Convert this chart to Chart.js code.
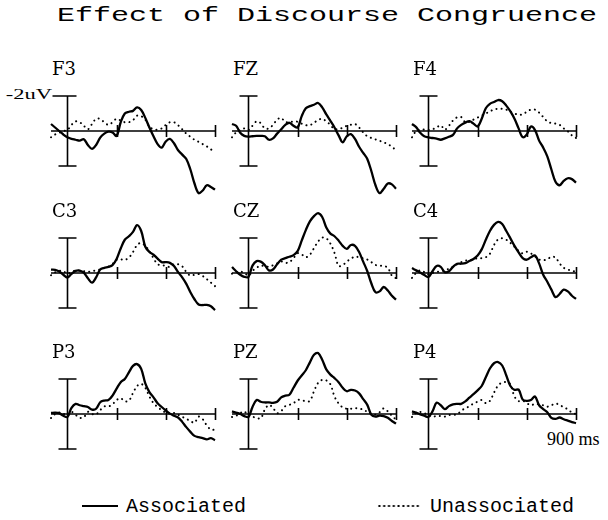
<!DOCTYPE html>
<html>
<head>
<meta charset="utf-8">
<script src="https://cdn.jsdelivr.net/npm/chart.js@4.4.0/dist/chart.umd.min.js"></script>
<style>
  body { margin: 0; background: #fff; }
  #page { position: relative; width: 608px; height: 520px; overflow: hidden; background: #fff; }
  canvas { position: absolute; }
  .txt { position: absolute; white-space: nowrap; color: #000; }
  .mono { font-family: "Liberation Mono", "DejaVu Sans Mono", monospace; }
  .serif { font-family: "Liberation Serif", "DejaVu Serif", serif; }
  .lab { font-family: "DejaVu Serif", serif; font-size: 18px; line-height: 18px; }
</style>
</head>
<body>
<div id="page">
  <div class="txt mono" style="left:57px;top:6px;font-size:20px;line-height:20px;transform:scaleX(1.5);transform-origin:0 0;">Effect of Discourse Congruence</div>
  <div class="txt serif" style="left:0;top:87px;font-size:15px;line-height:15px;width:52px;text-align:right;transform:scaleX(1.5);transform-origin:100% 0;">-2uV</div>
  <div class="txt serif" style="left:547px;top:430px;font-size:18px;line-height:18px;">900 ms</div>

  <div style="position:absolute;left:82px;top:505px;width:36px;border-top:2px solid #000;"></div>
  <div class="txt mono" style="left:126px;top:497px;font-size:20px;line-height:20px;">Associated</div>
  <div style="position:absolute;left:377px;top:504px;width:44px;height:4px;background-image:radial-gradient(circle, #000 0.9px, transparent 1.3px);background-size:4.8px 4px;"></div>
  <div class="txt mono" style="left:430px;top:497px;font-size:20px;line-height:20px;">Unassociated</div>
</div>
<script>
// time points (ms) and ERP amplitudes (uV, negative plotted up)
const times = [-100, -75, -50, -25, 0, 25, 50, 75, 100, 125, 150, 175, 200, 225, 250, 275, 300, 325, 350, 375,
  400, 425, 450, 475, 500, 525, 550, 575, 600, 625, 650, 675, 700, 725, 750, 775, 800, 825, 850, 875, 900];

const electrodes = ['F3', 'FZ', 'F4', 'C3', 'CZ', 'C4', 'P3', 'PZ', 'P4'];
const seriesNames = ['Associated', 'Unassociated'];

const f3Assoc = [-0.4, -0.2, 0.0, 0.2, 0.36, 0.45, 0.5, 0.55, 0.47, 0.8, 1.02, 0.8, 0.38, 0.15, 0.04, 0.08, 0.28, -0.5, -1.0, -1.1,
  -1.15, -1.35, -1.2, -0.75, -0.2, 0.3, 0.75, 0.95, 0.6, 0.45, 0.7, 1.1, 1.35, 1.6, 2.2, 3.0, 3.55, 3.4, 3.1, 3.2, 3.35];
const f3Unassoc = [0.36, 0.2, 0.1, 0.0, -0.06, -0.35, -0.55, -0.5, -0.3, -0.1, -0.4, -0.7, -0.68, -0.5, -0.35, -0.5, -0.7, -0.6, -0.5, -0.5,
  -0.62, -0.88, -0.85, -0.65, -0.25, -0.1, -0.08, -0.15, -0.35, -0.5, -0.5, -0.33, -0.1, 0.15, 0.33, 0.5, 0.62, 0.75, 0.88, 1.05, 1.2];

const fzAssoc = [-0.4, -0.3, 0.1, 0.28, 0.32, 0.3, 0.28, 0.28, 0.3, 0.5, 0.42, 0.15, -0.1, -0.35, -0.47, -0.3, -0.2, -0.85, -1.3, -1.42,
  -1.5, -1.6, -1.35, -0.95, -0.58, -0.2, 0.25, 0.65, 0.3, 0.18, 0.45, 0.9, 1.25, 1.6, 2.3, 3.1, 3.55, 3.3, 3.0, 3.05, 3.3];
const fzUnassoc = [0.36, 0.08, -0.05, -0.15, -0.06, -0.3, -0.55, -0.45, -0.15, -0.15, -0.35, -0.65, -0.75, -0.5, -0.53, -0.53, -0.53, -0.42, -0.33, -0.33,
  -0.48, -0.62, -0.7, -0.55, -0.35, -0.1, -0.12, -0.18, -0.3, -0.36, -0.4, -0.2, 0.08, 0.3, 0.4, 0.48, 0.56, 0.65, 0.75, 0.9, 1.1];

const f4Assoc = [-0.4, -0.22, 0.1, 0.3, 0.36, 0.4, 0.44, 0.5, 0.42, 0.33, 0.22, -0.15, -0.35, -0.48, -0.56, -0.42, -0.26, -0.7, -1.3, -1.55,
  -1.66, -1.77, -1.7, -1.45, -1.12, -0.7, -0.15, 0.35, 0.2, -0.25, -0.05, 0.55, 0.95, 1.45, 2.2, 2.9, 3.1, 2.85, 2.7, 2.75, 2.95];
const f4Unassoc = [0.36, 0.0, -0.08, -0.08, -0.06, -0.1, -0.2, -0.32, -0.08, -0.3, -0.6, -0.78, -0.8, -0.5, -0.52, -0.65, -0.77, -0.88, -1.0, -1.12,
  -1.23, -1.27, -1.27, -1.22, -1.1, -1.0, -0.93, -0.95, -1.1, -1.22, -1.22, -1.05, -0.8, -0.55, -0.45, -0.42, -0.35, -0.15, 0.02, 0.25, 0.4];

const c3Assoc = [-0.19, -0.18, -0.08, 0.1, 0.26, 0.05, -0.12, -0.14, -0.02, 0.3, 0.55, 0.25, -0.2, -0.3, -0.35, -0.45, -0.8, -1.4, -1.9, -2.1,
  -2.35, -2.74, -2.4, -1.5, -1.2, -1.05, -0.82, -0.62, -0.62, -0.58, -0.4, -0.05, 0.25, 0.62, 1.1, 1.5, 1.8, 1.83, 1.82, 1.9, 2.12];
const c3Unassoc = [0.13, -0.04, -0.12, -0.1, 0.04, -0.05, -0.15, -0.13, -0.1, -0.07, -0.1, -0.15, -0.2, -0.28, -0.36, -0.52, -0.75, -0.78, -0.75, -0.88,
  -1.2, -1.6, -1.72, -1.55, -1.25, -0.85, -0.5, -0.45, -0.4, -0.35, -0.5, -0.5, -0.38, -0.06, 0.15, 0.1, 0.06, 0.17, 0.35, 0.55, 0.75];

const czAssoc = [-0.34, -0.1, 0.1, 0.22, 0.23, -0.42, -0.68, -0.65, -0.45, -0.15, -0.2, -0.5, -0.76, -0.85, -0.93, -1.02, -1.25, -1.85, -2.45, -2.95,
  -3.25, -3.42, -3.2, -2.6, -2.25, -2.1, -1.85, -1.55, -1.38, -1.6, -1.55, -1.2, -0.65, -0.1, 0.6, 1.1, 1.05, 0.8, 1.0, 1.3, 1.52];
const czUnassoc = [0.04, -0.05, -0.08, -0.01, 0.15, -0.12, -0.3, -0.42, -0.38, -0.36, -0.44, -0.55, -0.66, -0.58, -0.62, -0.85, -1.13, -1.06, -0.9, -1.05,
  -1.42, -1.8, -2.02, -1.98, -1.68, -1.15, -0.4, -0.45, -0.65, -0.82, -0.93, -0.9, -0.84, -0.77, -0.62, -0.46, -0.42, -0.4, -0.3, 0.15, 0.3];

const c4Assoc = [-0.28, -0.15, -0.03, 0.12, 0.23, -0.1, -0.4, -0.35, -0.05, -0.1, -0.35, -0.53, -0.53, -0.56, -0.68, -0.8, -1.0, -1.35, -1.9, -2.4,
  -2.75, -2.92, -2.8, -2.4, -1.98, -1.55, -1.18, -0.85, -0.76, -0.9, -1.0, -0.55, 0.1, 0.5, 0.95, 1.38, 1.2, 0.95, 1.05, 1.3, 1.48];
const c4Unassoc = [0.28, 0.0, -0.15, -0.05, 0.09, 0.0, -0.05, -0.1, -0.16, -0.24, -0.36, -0.5, -0.62, -0.7, -0.73, -0.77, -0.85, -0.85, -0.9, -1.1,
  -1.6, -1.92, -1.98, -1.9, -1.72, -1.5, -1.27, -1.12, -1.22, -1.12, -0.95, -0.77, -0.73, -0.78, -0.93, -0.88, -0.55, -0.3, -0.2, -0.12, -0.08];

const p3Assoc = [-0.06, -0.08, -0.05, 0.1, 0.17, -0.35, -0.58, -0.5, -0.45, -0.4, -0.25, -0.3, -0.67, -0.77, -0.8, -1.05, -1.45, -1.82, -2.0, -2.38,
  -2.75, -2.85, -2.58, -1.75, -1.25, -0.95, -0.62, -0.4, -0.2, -0.02, 0.1, 0.2, 0.45, 0.75, 1.02, 1.25, 1.32, 1.38, 1.45, 1.38, 1.5];
const p3Unassoc = [0.23, 0.0, -0.09, -0.02, 0.09, -0.12, 0.05, 0.22, 0.18, -0.12, 0.0, 0.02, -0.22, -0.43, -0.43, -0.55, -0.8, -0.9, -0.72, -0.76,
  -1.2, -1.6, -1.72, -1.5, -1.0, -0.62, -0.4, -0.22, -0.08, -0.03, -0.06, 0.05, 0.16, 0.28, 0.4, 0.5, 0.15, 0.3, 0.65, 0.89, 0.9];

const pzAssoc = [-0.15, -0.08, 0.0, 0.12, 0.17, -0.4, -0.8, -0.7, -0.66, -0.66, -0.64, -0.7, -0.95, -1.05, -1.1, -1.5, -1.9, -2.2, -2.5, -2.95,
  -3.38, -3.48, -3.1, -2.55, -2.25, -2.05, -1.82, -1.5, -1.3, -1.38, -1.34, -1.18, -0.85, -0.52, 0.05, 0.15, 0.09, 0.12, 0.22, 0.4, 0.55];
const pzUnassoc = [0.17, 0.1, -0.05, -0.15, 0.13, 0.16, 0.22, 0.25, -0.25, -0.52, -0.35, -0.05, -0.17, -0.45, -0.52, -0.62, -0.8, -0.8, -0.72, -0.75,
  -1.3, -1.78, -1.95, -1.92, -1.7, -1.0, -0.6, -0.38, -0.3, -0.3, -0.34, -0.3, -0.26, -0.12, 0.0, 0.04, -0.1, -0.32, -0.15, 0.1, 0.32];

const p4Assoc = [-0.15, -0.08, 0.02, 0.1, 0.17, -0.15, -0.65, -0.5, -0.28, -0.45, -0.55, -0.58, -0.58, -0.72, -0.93, -1.13, -1.35, -1.6, -2.1, -2.6,
  -2.9, -2.97, -2.77, -2.2, -1.6, -1.38, -1.4, -0.82, -0.75, -0.8, -1.0, -0.5, -0.28, -0.1, 0.22, 0.28, 0.2, 0.3, 0.38, 0.46, 0.52];
const p4Unassoc = [0.17, -0.06, -0.12, -0.05, 0.09, 0.15, 0.12, 0.12, 0.15, 0.06, 0.05, 0.02, -0.18, -0.33, -0.44, -0.6, -0.7, -0.8, -0.62, -0.75,
  -1.22, -1.63, -1.8, -1.82, -1.7, -1.0, -0.74, -0.76, -0.62, -0.5, -0.58, -0.55, -0.5, -0.42, -0.5, -0.6, -0.52, -0.38, -0.27, -0.08, 0.0];

const assocSeries = [f3Assoc, fzAssoc, f4Assoc, c3Assoc, czAssoc, c4Assoc, p3Assoc, pzAssoc, p4Assoc];
const unassocSeries = [f3Unassoc, fzUnassoc, f4Unassoc, c3Unassoc, czUnassoc, c4Unassoc, p3Unassoc, pzUnassoc, p4Unassoc];
const timeTicks = [300, 600, 900];

// layout of the 3x3 grid
const colLeft = [39, 220, 400];
const rowTop = [49, 191, 332];
const PAD = 12;

// zero line with time ticks, plus the +-2uV calibration bar at 0 ms
const erpAxes = {
  id: 'erpAxes',
  beforeDatasetsDraw(chart, args, opts) {
    const { ctx, scales: { x, y } } = chart;
    const y0 = y.getPixelForValue(0);
    ctx.save();
    ctx.strokeStyle = '#000';
    ctx.lineWidth = 1.6;
    ctx.beginPath();
    ctx.moveTo(x.getPixelForValue(-100), y0);
    ctx.lineTo(x.getPixelForValue(900), y0);
    timeTicks.forEach(t => {
      const px = Math.round(x.getPixelForValue(t)) + 0.5;
      ctx.moveTo(px, y0 - 6);
      ctx.lineTo(px, y0 + 6);
    });
    const bx = Math.round(x.getPixelForValue(0)) + 0.5;
    const yTop = y.getPixelForValue(-2);
    const yBot = y.getPixelForValue(2);
    ctx.moveTo(bx, yTop);
    ctx.lineTo(bx, yBot);
    ctx.moveTo(bx - 9 - (opts.capExtra || 0), yTop);
    ctx.lineTo(bx + 9, yTop);
    ctx.moveTo(bx - 9, yBot);
    ctx.lineTo(bx + 9, yBot);
    ctx.stroke();
    ctx.restore();
  }
};

const page = document.getElementById('page');

electrodes.forEach((name, i) => {
  const col = i % 3, row = Math.floor(i / 3);

  const lab = document.createElement('div');
  lab.className = 'txt lab';
  lab.style.left = (colLeft[col] + 13) + 'px';
  lab.style.top = (rowTop[row] + 11) + 'px';
  lab.textContent = name;
  page.appendChild(lab);

  const cv = document.createElement('canvas');
  cv.width = 188;
  cv.height = 164;
  cv.style.left = colLeft[col] + 'px';
  cv.style.top = rowTop[row] + 'px';
  cv.style.width = '188px';
  cv.style.height = '164px';
  page.appendChild(cv);

  new Chart(cv, {
    type: 'line',
    data: {
      datasets: [
        {
          label: seriesNames[0],
          data: times.map((t, k) => ({ x: t, y: assocSeries[i][k] })),
          borderColor: '#000',
          borderWidth: 2.3,
          pointRadius: 0,
          tension: 0.35,
          clip: false
        },
        {
          label: seriesNames[1],
          data: times.map((t, k) => ({ x: t, y: unassocSeries[i][k] })),
          borderColor: '#000',
          borderWidth: 2,
          borderDash: [0.1, 5],
          borderCapStyle: 'round',
          pointRadius: 0,
          tension: 0.35,
          clip: false
        }
      ]
    },
    options: {
      responsive: false,
      animation: false,
      layout: { padding: PAD },
      plugins: {
        legend: { display: false },
        tooltip: { enabled: false },
        title: { display: false },
        erpAxes: { capExtra: i === 0 ? 6 : 0 }
      },
      scales: {
        x: { type: 'linear', min: -100, max: 900, display: false },
        y: { min: -4, max: 4, reverse: true, display: false }
      }
    },
    plugins: [erpAxes]
  });
});
</script>
</body>
</html>
